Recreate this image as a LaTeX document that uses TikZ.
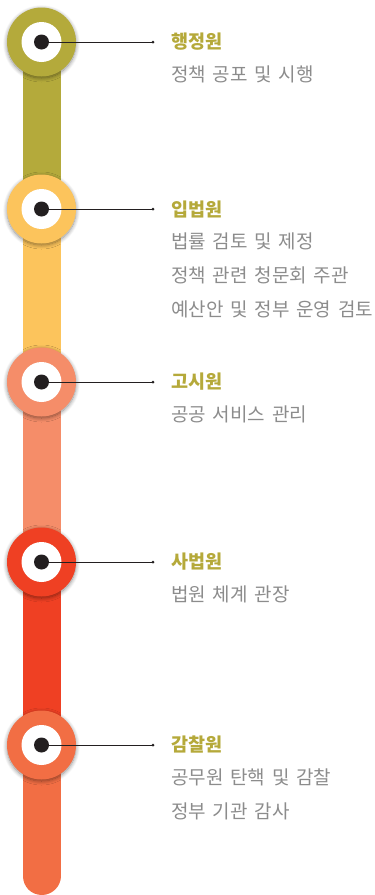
\documentclass[tikz,border=0pt]{standalone}
\usepackage{fontspec}
\setmainfont{Noto Sans CJK KR}
\usetikzlibrary{shadows.blur}
\definecolor{haengC}{HTML}{B4AA3B}
\definecolor{ipbC}{HTML}{FCC45C}
\definecolor{gosiC}{HTML}{F58D69}
\definecolor{sabC}{HTML}{EF4023}
\definecolor{gamC}{HTML}{F26E44}
\definecolor{headC}{HTML}{B5A93A}
\definecolor{bodyC}{HTML}{8C8C8C}
\definecolor{dotC}{HTML}{231F20}
\newcommand{\bodyfont}{\fontsize{19}{34}\selectfont\spaceskip=6.8pt\relax}
\begin{document}
\begin{tikzpicture}[x=1pt, y=-1pt,
  ring/.style={circle, minimum size=69pt, inner sep=0pt,
    blur shadow={shadow xshift=0pt, shadow yshift=-1.5pt, shadow blur radius=4pt, shadow blur steps=10, shadow opacity=45}},
  hole/.style={circle, fill=white, minimum size=40pt, inner sep=0pt},
  dot/.style={circle, fill=dotC, minimum size=15pt, inner sep=0pt},
  tip/.style={circle, fill=dotC, minimum size=3pt, inner sep=0pt},
  lead/.style={draw=dotC, line width=0.9pt},
  headtext/.style={anchor=west, inner sep=0pt, text=headC, font=\fontsize{18.5}{20}\selectfont\bfseries},
  bodytext/.style={anchor=north west, inner sep=0pt, text=bodyC, align=left, font=\bodyfont}]
\useasboundingbox (0,0) rectangle (375,895);
% bar
\fill[haengC] (22.5,42) rectangle (60.5,209);
\fill[ipbC] (22.5,209) rectangle (60.5,382);
\fill[gosiC] (22.5,382) rectangle (60.5,562);
\fill[sabC] (22.5,562) rectangle (60.5,745);
\draw[gamC, line width=38pt, line cap=round] (41.5,745) -- (41.5,876);
% rings
\foreach \n/\y/\col in {hj/42/haengC, ib/209/ipbC, gs/382/gosiC, sb/562/sabC, gc/745/gamC} {
  \node[ring, fill=\col] (ring-\n) at (41.5,\y) {};
  \node[hole] at (ring-\n) {};
  \node[dot] (dot-\n) at (ring-\n) {};
  \node[tip] (tip-\n) at (153,\y) {};
  \draw[lead] (dot-\n.center) -- (tip-\n.center);
}
% texts
\node[headtext] (head-hj) at (171,42) {행정원};
\node[bodytext] (body-hj) at (171,65.5) {정책 공포 및 시행};
\node[headtext] (head-ib) at (171,209) {입법원};
\node[bodytext] (body-ib) at (171,232.5) {법률 검토 및 제정\\정책 관련 청문회 주관\\예산안 및 정부 운영 검토};
\node[headtext] (head-gs) at (171,382) {고시원};
\node[bodytext] (body-gs) at (171,405.5) {공공 서비스 관리};
\node[headtext] (head-sb) at (171,562) {사법원};
\node[bodytext] (body-sb) at (171,585.5) {법원 체계 관장};
\node[headtext] (head-gc) at (171,745) {감찰원};
\node[bodytext] (body-gc) at (171,768.5) {공무원 탄핵 및 감찰\\정부 기관 감사};
\end{tikzpicture}
\end{document}
